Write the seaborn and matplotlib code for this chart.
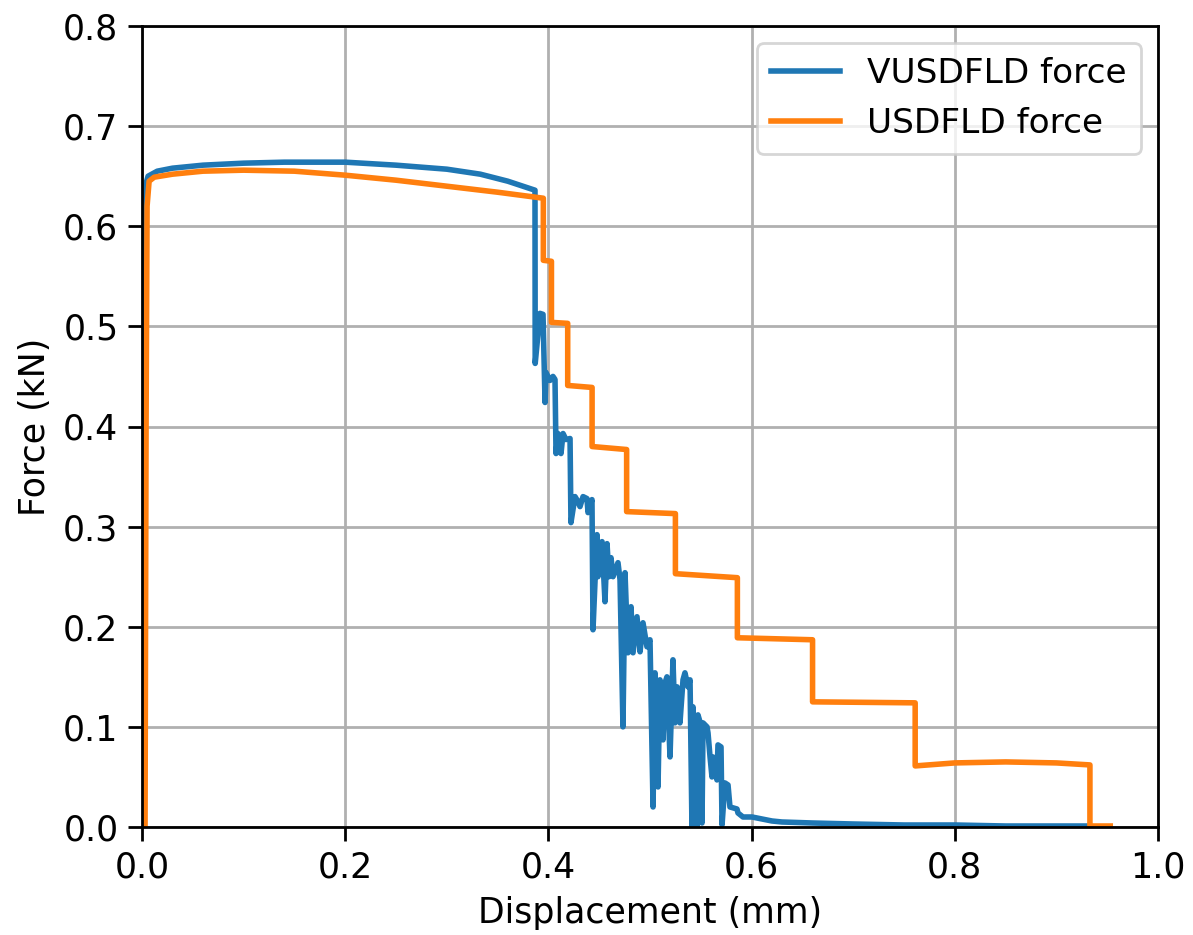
import numpy as np
import pandas as pd
import matplotlib
matplotlib.use("Agg")
import matplotlib.pyplot as plt
import seaborn as sns

# VUSDFLD force curve (displacement mm, force kN)
vus_x = [0.0, 0.0015, 0.0025, 0.004, 0.006, 0.015, 0.03, 0.06, 0.10, 0.14, 0.20, 0.25, 0.30, 0.333, 0.36, 0.3868,
         0.3870, 0.3917, 0.3947, 0.3967, 0.3976, 0.4016, 0.4045, 0.4065, 0.4075, 0.4094, 0.4124, 0.4144, 0.4173,
         0.4213, 0.4222, 0.4262, 0.4291, 0.4311, 0.4341, 0.4380, 0.4390, 0.4429, 0.4439, 0.4478, 0.4488, 0.4528,
         0.4557, 0.4577, 0.4596, 0.4616, 0.4636, 0.4685, 0.4705, 0.4734, 0.4754, 0.4783, 0.4813, 0.4833, 0.4872,
         0.4902, 0.4931, 0.4970, 0.5000, 0.5030, 0.5049, 0.5079, 0.5098, 0.5128, 0.5148, 0.5167, 0.5197, 0.5226,
         0.5246, 0.5266, 0.5295, 0.5325, 0.5344, 0.5374, 0.5394, 0.5413, 0.5423, 0.5433, 0.5443, 0.5462, 0.5472,
         0.5492, 0.5512, 0.5522, 0.5561, 0.5571, 0.5591, 0.5610, 0.5620, 0.5659, 0.5669, 0.5699, 0.5709, 0.5738,
         0.5768, 0.5787, 0.5856, 0.5866, 0.5915, 0.6004, 0.6102, 0.6201, 0.6299, 0.66, 0.70, 0.75, 0.80, 0.85, 0.93]
vus_y = [0.0, 0.40, 0.60, 0.643, 0.650, 0.655, 0.658, 0.661, 0.663, 0.664, 0.664, 0.661, 0.657, 0.652, 0.645, 0.636,
         0.463, 0.513, 0.512, 0.424, 0.454, 0.446, 0.450, 0.447, 0.373, 0.393, 0.373, 0.393, 0.387,
         0.388, 0.304, 0.330, 0.325, 0.320, 0.330, 0.328, 0.314, 0.327, 0.197, 0.292, 0.250, 0.285,
         0.225, 0.283, 0.250, 0.269, 0.250, 0.264, 0.247, 0.100, 0.254, 0.174, 0.220, 0.174, 0.210,
         0.175, 0.204, 0.180, 0.187, 0.020, 0.154, 0.040, 0.147, 0.087, 0.144, 0.150, 0.070, 0.167,
         0.104, 0.140, 0.104, 0.147, 0.154, 0.140, 0.147, 0.0, 0.120, 0.0, 0.110, 0.0, 0.112,
         0.105, 0.004, 0.104, 0.100, 0.094, 0.070, 0.050, 0.070, 0.047, 0.082, 0.080, 0.002, 0.044,
         0.042, 0.020, 0.018, 0.014, 0.010, 0.010, 0.008, 0.006, 0.005, 0.004, 0.003, 0.002, 0.002, 0.001, 0.001]

# USDFLD force curve
usd_x = [0.003, 0.004, 0.005, 0.007, 0.012, 0.03, 0.06, 0.10, 0.15, 0.20, 0.25, 0.30, 0.35, 0.395,
         0.395, 0.403, 0.403, 0.419, 0.419, 0.443, 0.443, 0.477, 0.477, 0.525, 0.525, 0.586, 0.586,
         0.660, 0.660, 0.761, 0.761, 0.80, 0.85, 0.90, 0.933, 0.933, 0.953]
usd_y = [0.0, 0.40, 0.62, 0.645, 0.649, 0.652, 0.655, 0.656, 0.655, 0.651, 0.646, 0.640, 0.634, 0.628,
         0.566, 0.565, 0.504, 0.503, 0.441, 0.439, 0.380, 0.377, 0.315, 0.313, 0.253, 0.249, 0.189,
         0.187, 0.125, 0.124, 0.061, 0.064, 0.065, 0.064, 0.062, 0.001, 0.001]

x_ticks = [0.0, 0.2, 0.4, 0.6, 0.8, 1.0]
y_ticks = [0.0, 0.1, 0.2, 0.3, 0.4, 0.5, 0.6, 0.7, 0.8]

df = pd.concat([
    pd.DataFrame({"x": vus_x, "y": vus_y, "series": "VUSDFLD force"}),
    pd.DataFrame({"x": usd_x, "y": usd_y, "series": "USDFLD force"}),
], ignore_index=True)

plt.rcParams['font.family'] = ['DejaVu Sans']
fig = plt.figure(figsize=(5.965, 4.675), dpi=200)
ax = fig.add_axes([142 / 1193, 1 - 827 / 935, (1158 - 142) / 1193, (827 - 26) / 935])

sns.lineplot(data=df, x="x", y="y", hue="series", sort=False, estimator=None,
             palette=["#1f77b4", "#ff7f0e"], linewidth=2.0, ax=ax)

ax.set_xlim(0, 1.0)
ax.set_ylim(0, 0.8)
ax.set_xticks(x_ticks)
ax.set_yticks(y_ticks)
ax.set_xticklabels([f"{v:.1f}" for v in x_ticks])
ax.set_yticklabels([f"{v:.1f}" for v in y_ticks])
ax.tick_params(labelsize=12.5, width=1.0, length=5)
ax.grid(True, color="#b0b0b0", linewidth=1.0)
ax.set_axisbelow(True)
for s in ax.spines.values():
    s.set_linewidth(1.0)
ax.set_xlabel("Displacement (mm)", fontsize=12.5)
ax.set_ylabel("Force (kN)", fontsize=12.5)
leg = ax.legend(loc="upper right", fontsize=12.4, title=None)
for line in leg.get_lines():
    line.set_linewidth(2.0)

fig.savefig("out.png", dpi=200)
